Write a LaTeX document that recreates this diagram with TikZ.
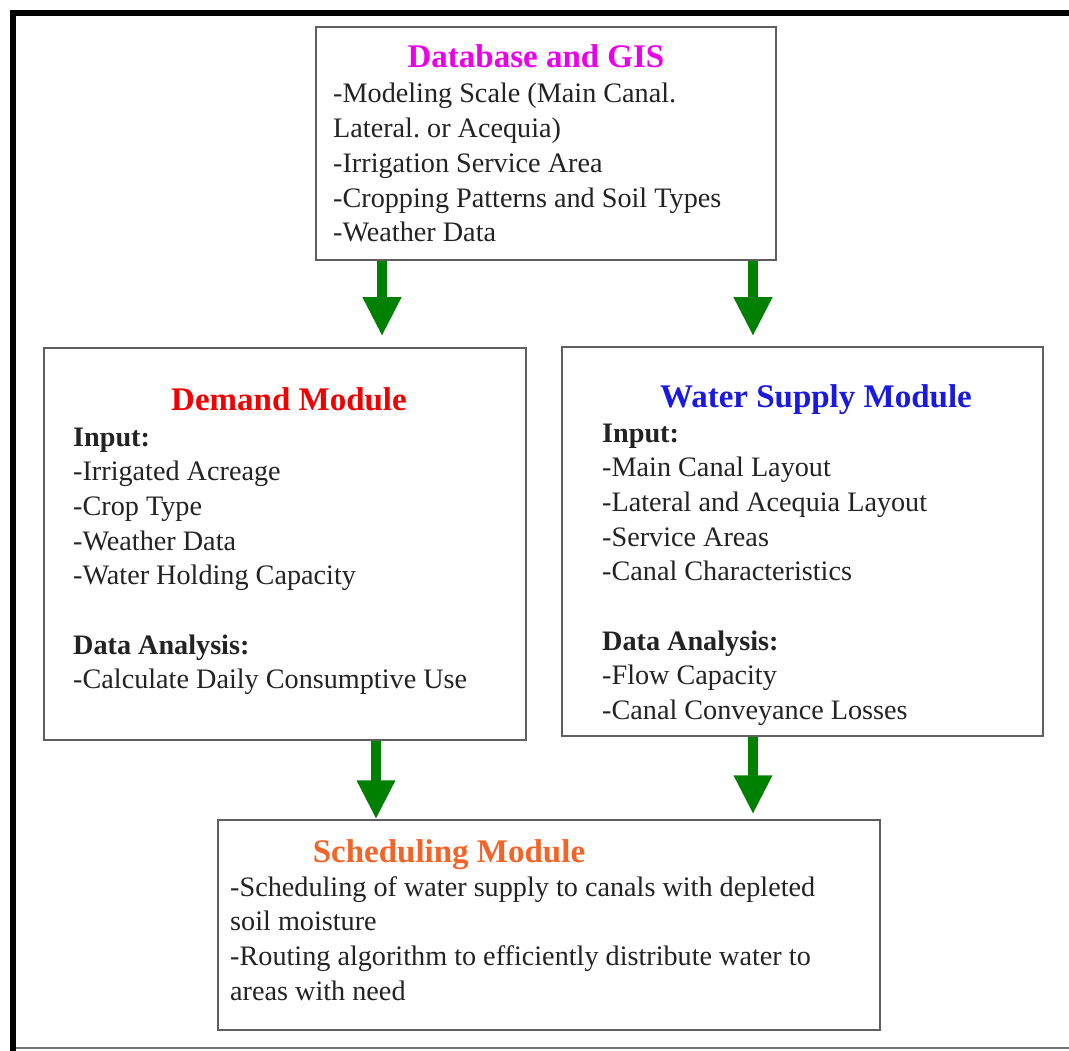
\documentclass[tikz,border=0pt]{standalone}
\usepackage{fontspec}
\setmainfont{Liberation Serif}
\frenchspacing
\usetikzlibrary{arrows.meta}
\definecolor{boxgray}{RGB}{95,95,95}
\definecolor{txt}{RGB}{35,35,35}
\definecolor{gisMag}{RGB}{235,0,235}
\definecolor{demRed}{RGB}{240,0,0}
\definecolor{wsBlue}{RGB}{25,25,225}
\definecolor{schOr}{RGB}{242,100,40}
\definecolor{arrGreen}{RGB}{0,128,0}
\newcommand{\bodyfont}{\fontsize{28.2}{34.7}\selectfont}
\newcommand{\titlefont}{\fontsize{33}{34.7}\selectfont\bfseries}
\begin{document}
\begin{tikzpicture}[x=1pt,y=-1pt,
  modbox/.style={draw=boxgray,line width=1.5pt,fill=white,inner sep=0pt,anchor=center},
  ttl/.style={inner sep=0pt,anchor=base,font=\titlefont},
  bodytxt/.style={inner sep=0pt,anchor=base west,text=txt,font=\bodyfont},
  garrow/.style={draw=arrGreen,line width=10pt,-{Triangle[width=36pt,length=39pt]},arrGreen}]
\useasboundingbox (0,0) rectangle (1069,1051);
\fill[white] (0,0) rectangle (1069,1051);
% outer frame
\draw[line width=6pt,black] (13,1051) -- (13,13) -- (1069,13);
\draw[line width=2pt,black!55] (16,1048) -- (1069,1048);
% boxes
\node[modbox,minimum width=460pt,minimum height=233pt] (db) at (546,143.5) {};
\node[modbox,minimum width=482pt,minimum height=392pt] (dm) at (285,544) {};
\node[modbox,minimum width=481pt,minimum height=389pt] (ws) at (802.5,541.5) {};
\node[modbox,minimum width=662pt,minimum height=210pt] (sm) at (549,925) {};
% titles
\node[ttl,text=gisMag] (dbT) at (536,68) {Database and GIS};
\node[ttl,text=demRed] (dmT) at (289,410) {Demand Module};
\node[ttl,text=wsBlue] (wsT) at (816,407) {Water Supply Module};
\node[ttl,text=schOr] (smT) at (449,862) {Scheduling Module};
% bodies
\node[bodytxt] (dbB) at (333,103) {\parbox[t]{430pt}{\raggedright
-Modeling Scale (Main Canal.\\
Lateral. or Acequia)\\
-Irrigation Service Area\\
-Cropping Patterns and Soil Types\\
-Weather Data}};
\node[bodytxt] (dmB) at (73,446) {\parbox[t]{440pt}{\raggedright
\textbf{Input:}\\
-Irrigated Acreage\\
-Crop Type\\
-Weather Data\\
-Water Holding Capacity\\[34.7pt]
\textbf{Data Analysis:}\\
-Calculate Daily Consumptive Use}};
\node[bodytxt] (wsB) at (602,442) {\parbox[t]{430pt}{\raggedright
\textbf{Input:}\\
-Main Canal Layout\\
-Lateral and Acequia Layout\\
-Service Areas\\
-Canal Characteristics\\[34.7pt]
\textbf{Data Analysis:}\\
-Flow Capacity\\
-Canal Conveyance Losses}};
\node[bodytxt] (smB) at (230,896) {\parbox[t]{640pt}{\raggedright
-Scheduling of water supply to canals with depleted\\
soil moisture\\
-Routing algorithm to efficiently distribute water to\\
areas with need}};
% arrows
\coordinate (a1) at (382,300);
\coordinate (a2) at (753,300);
\coordinate (a3) at (376,780);
\coordinate (a4) at (753,780);
\draw[garrow,shorten >=11pt] (a1 |- db.south) -- (a1 |- dm.north);
\draw[garrow,shorten >=10pt] (a2 |- db.south) -- (a2 |- ws.north);
\draw[garrow] (a3 |- dm.south) -- (a3 |- sm.north);
\draw[garrow,shorten >=5pt] (a4 |- ws.south) -- (a4 |- sm.north);
\end{tikzpicture}
\end{document}
